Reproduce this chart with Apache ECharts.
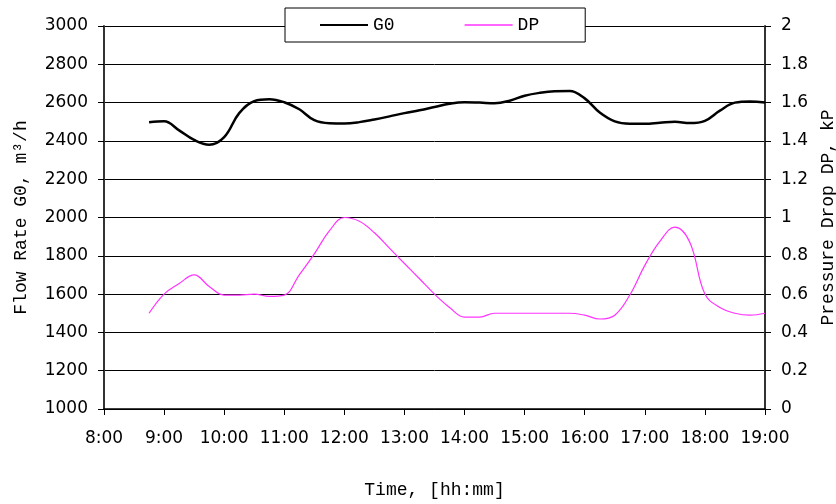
<!DOCTYPE html>
<html>
<head>
<meta charset="utf-8">
<script src="https://cdn.jsdelivr.net/npm/echarts@6/dist/echarts.min.js"></script>
<style>
  html, body { margin: 0; padding: 0; background: #fff; }
  #chart { width: 836px; height: 504px; }
</style>
</head>
<body>
<div id="chart"></div>
<script>
// Sample times (15-minute readings)
const times = ['8:45','9:00','9:15','9:30','9:45','10:00','10:15','10:30','10:45','11:00',
  '11:15','11:30','11:45','12:00','12:15','12:30','12:45','13:00','13:15','13:30',
  '13:45','14:00','14:15','14:30','14:45','15:00','15:15','15:30','15:45','16:00',
  '16:15','16:30','16:45','17:00','17:15','17:30','17:45','18:00','18:15','18:30',
  '18:45','19:00'];

// Flow rate G0, m3/h
const g0 = [2498, 2502, 2455, 2405, 2380, 2420, 2545, 2608, 2618, 2602,
  2565, 2508, 2492, 2491, 2498, 2512, 2528, 2545, 2560, 2577,
  2594, 2602, 2600, 2597, 2610, 2636, 2651, 2659, 2660, 2622,
  2548, 2502, 2490, 2490, 2495, 2500, 2493, 2505, 2558, 2600,
  2606, 2600];

// Pressure drop DP, kPa
const dp = [0.50, 0.60, 0.655, 0.70, 0.64, 0.595, 0.595, 0.60, 0.588, 0.595,
  0.70, 0.81, 0.93, 1.00, 0.98, 0.92, 0.84, 0.76, 0.68, 0.60,
  0.53, 0.48, 0.48, 0.50, 0.50, 0.50, 0.50, 0.50, 0.50, 0.49,
  0.47, 0.49, 0.595, 0.75, 0.875, 0.95, 0.87, 0.60, 0.53, 0.50,
  0.49, 0.50];

// Axis ticks
const hourTicks = [8, 19];
const g0Range = [1000, 3000, 200];
const dpRange = [0, 2, 0.2];

function toHours(t) {
  const [h, m] = t.split(':').map(Number);
  return h + m / 60;
}

const labelFont = { fontFamily: 'DejaVu Sans', fontSize: 17, color: '#000' };
const titleFont = { fontFamily: 'Liberation Mono', fontSize: 18, color: '#000' };

const chart = echarts.init(document.getElementById('chart'), null, { renderer: 'canvas' });
chart.setOption({
  animation: false,
  backgroundColor: '#fff',
  grid: { left: 104, right: 71, top: 26, bottom: 95, containLabel: false, outerBoundsMode: 'none' },
  legend: {
    left: 285, top: 8,
    backgroundColor: '#fff',
    borderColor: '#000',
    borderWidth: 1,
    borderRadius: 0,
    padding: [8, 46, 8, 35],
    itemGap: 70,
    itemWidth: 48,
    itemHeight: 2,
    icon: 'rect',
    textStyle: { fontFamily: 'Liberation Mono', fontSize: 18, color: '#000' },
    data: [
      { name: 'G0', itemStyle: { color: '#000' } },
      { name: 'DP', itemStyle: { color: '#ff66ff' } }
    ]
  },
  xAxis: {
    type: 'value',
    min: hourTicks[0], max: hourTicks[1], interval: 1,
    name: 'Time, [hh:mm]',
    nameLocation: 'middle',
    nameGap: 72,
    nameTextStyle: titleFont,
    axisLine: { show: true, onZero: false, lineStyle: { color: '#000', width: 1.5 } },
    axisTick: { show: true, inside: false, length: 6, lineStyle: { color: '#000' } },
    axisLabel: Object.assign({ margin: 21, formatter: v => v + ':00' }, labelFont),
    splitLine: { show: false }
  },
  yAxis: [
    {
      type: 'value',
      min: g0Range[0], max: g0Range[1], interval: g0Range[2],
      name: 'Flow Rate G0, m³/h',
      nameLocation: 'middle',
      nameGap: 74,
      nameTextStyle: titleFont,
      axisLine: { show: true, lineStyle: { color: '#333', width: 2 } },
      axisTick: { show: true, inside: false, length: 6, lineStyle: { color: '#000' } },
      axisLabel: Object.assign({ margin: 16, formatter: v => String(v) }, labelFont),
      splitLine: { show: true, lineStyle: { color: '#000', width: 1 } }
    },
    {
      type: 'value',
      min: dpRange[0], max: dpRange[1], interval: dpRange[2],
      name: 'Pressure Drop DP, kP',
      nameLocation: 'middle',
      nameGap: 45,
      nameRotate: 90,
      nameTextStyle: titleFont,
      position: 'right',
      axisLine: { show: true, lineStyle: { color: '#333', width: 2 } },
      axisTick: { show: true, inside: false, length: 6, lineStyle: { color: '#000' } },
      axisLabel: Object.assign({ margin: 16, formatter: v => String(Math.round(v * 10) / 10) }, labelFont),
      splitLine: { show: false }
    }
  ],
  series: [
    {
      name: 'G0', type: 'line', yAxisIndex: 0,
      data: times.map((t, i) => [toHours(t), g0[i]]),
      smooth: 0.4, showSymbol: false, symbol: 'none',
      lineStyle: { color: '#000', width: 2.5 },
      itemStyle: { color: '#000' }
    },
    {
      name: 'DP', type: 'line', yAxisIndex: 1,
      data: times.map((t, i) => [toHours(t), dp[i]]),
      smooth: 0.4, showSymbol: false, symbol: 'none',
      lineStyle: { color: '#ff33ff', width: 1.2 },
      itemStyle: { color: '#ff66ff' }
    }
  ]
});
</script>
</body>
</html>
